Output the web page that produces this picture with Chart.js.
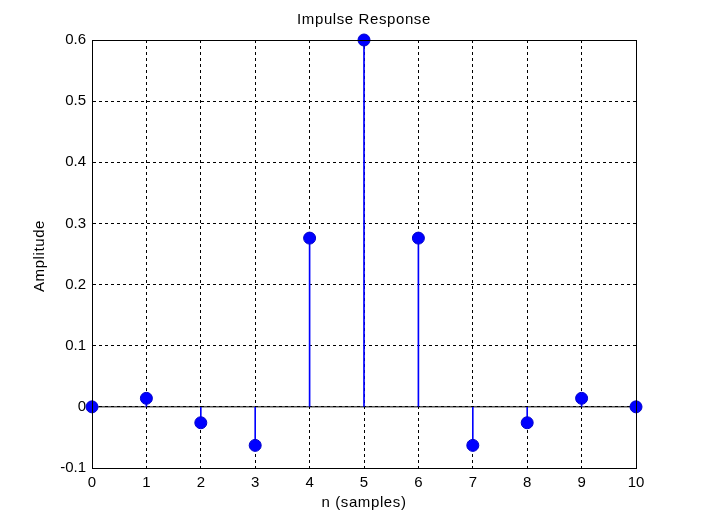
<!DOCTYPE html>
<html>
<head>
<meta charset="utf-8">
<script src="https://cdn.jsdelivr.net/npm/chart.js@4/dist/chart.umd.min.js"></script>
<style>
  html, body { margin: 0; padding: 0; background: #fff; }
  #wrap { width: 703px; height: 527px; }
</style>
</head>
<body>
<div id="wrap"><canvas id="stemChart" width="703" height="527"></canvas></div>
<script>
// impulse response samples
const samples = [0, 1, 2, 3, 4, 5, 6, 7, 8, 9, 10];
const amplitude = [0, 0.014, -0.026, -0.063, 0.276, 0.6, 0.276, -0.063, -0.026, 0.014, 0];
const yTicks = [-0.1, 0, 0.1, 0.2, 0.3, 0.4, 0.5, 0.6];
const xTicks = [0, 1, 2, 3, 4, 5, 6, 7, 8, 9, 10];

const points = samples.map((n, i) => ({ x: n, y: amplitude[i] }));
const fontFam = "'Liberation Sans', Arial, sans-serif";

// box around plot + title and axis labels
const boxPlugin = {
  id: 'box',
  afterDraw(chart) {
    const a = chart.chartArea;
    const c = chart.ctx;
    c.save();
    c.strokeStyle = '#000';
    c.lineWidth = 1;
    c.strokeRect(a.left + 0.5, a.top + 0.5, a.right - a.left, a.bottom - a.top);
    c.fillStyle = '#000';
    c.textAlign = 'center';
    c.textBaseline = 'middle';
    c.font = '15px ' + fontFam;
    c.letterSpacing = '0.6px';
    c.fillText('Impulse Response', (a.left + a.right) / 2, 20);
    c.fillText('n (samples)', (a.left + a.right) / 2, 503);
    c.translate(40, (a.top + a.bottom) / 2 + 2);
    c.rotate(-Math.PI / 2);
    c.fillText('Amplitude', 0, 0);
    c.restore();
  }
};

const ctx = document.getElementById('stemChart').getContext('2d');
let stemChart = new Chart(ctx, {
  type: 'scatter',
  data: {
    datasets: [
      {
        type: 'scatter',
        data: points,
        pointRadius: 6,
        pointBackgroundColor: '#0000ff',
        pointBorderColor: '#0000cc',
        pointBorderWidth: 1,
        clip: false,
        order: 0
      },
      {
        type: 'bar',
        data: points,
        backgroundColor: '#0000ff',
        barThickness: 1,
        order: 1
      },
      {
        type: 'line',
        data: [{ x: 0, y: 0 }, { x: 10, y: 0 }],
        borderColor: '#000',
        borderWidth: 1,
        pointRadius: 0,
        order: 2
      }
    ]
  },
  options: {
    responsive: false,
    animation: false,
    layout: { padding: { left: 0, right: 67, top: 40, bottom: 0 } },
    plugins: {
      legend: { display: false },
      tooltip: { enabled: false }
    },
    scales: {
      x: {
        type: 'linear',
        min: 0,
        max: 10,
        offset: false,
        afterBuildTicks: (s) => { s.ticks = xTicks.map(v => ({ value: v })); },
        afterFit: (s) => { s.height = 59; },
        ticks: { color: '#000', font: { size: 15, family: fontFam }, padding: 6 },
        grid: { color: '#000', drawTicks: false, lineWidth: 1, offset: false },
        border: { color: '#000', dash: [3, 3] }
      },
      y: {
        min: -0.1,
        max: 0.6,
        afterBuildTicks: (s) => { s.ticks = yTicks.map(v => ({ value: v })); },
        afterFit: (s) => { s.width = 92; },
        ticks: {
          color: '#000',
          font: { size: 15, family: fontFam },
          padding: 6,
          callback: (v) => (Math.abs(v) < 1e-9 ? '0' : String(Math.round(v * 10) / 10))
        },
        grid: { color: '#000', drawTicks: false, lineWidth: 1 },
        border: { color: '#000', dash: [3, 3] }
      }
    }
  },
  plugins: [boxPlugin]
});
</script>
</body>
</html>
